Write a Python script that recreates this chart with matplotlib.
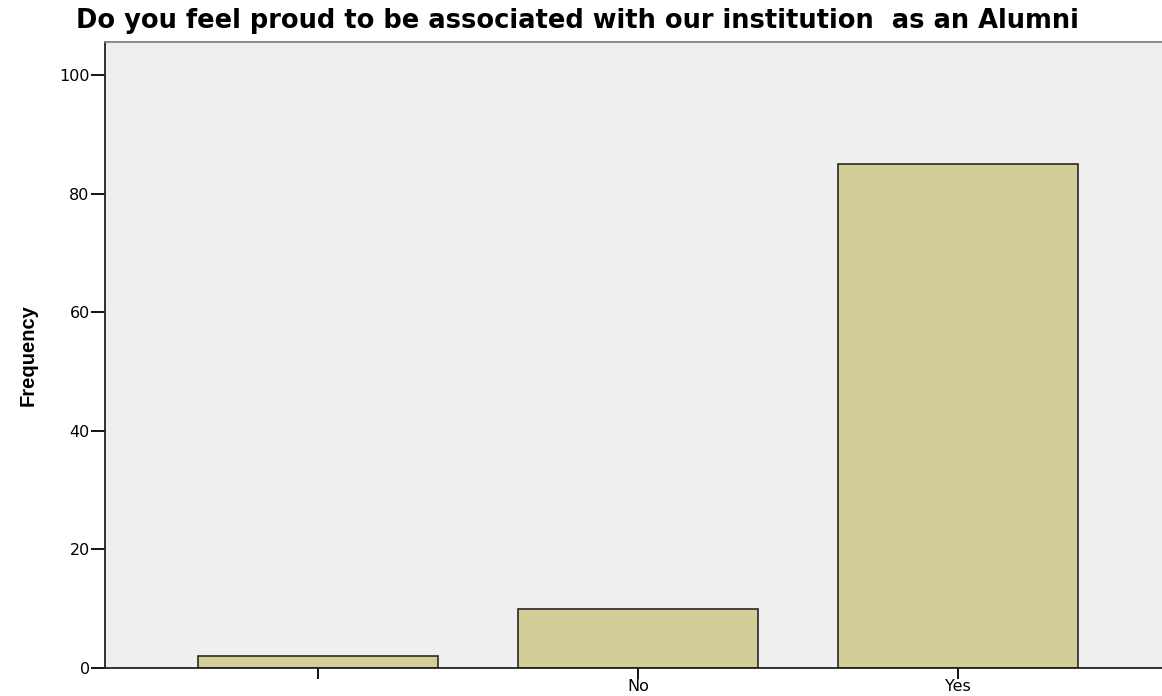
import matplotlib.pyplot as plt

# Data
categories = ["", "No", "Yes"]
frequency = [2, 10, 85]
yticks = [0, 20, 40, 60, 80, 100]

plt.rcParams['font.family'] = ['DejaVu Sans']

fig = plt.figure(figsize=(11.62, 6.96), dpi=100)
# plot area runs a little past the right edge of the picture
ax = fig.add_axes([105 / 1162, 28 / 696, 1066 / 1162, 626 / 696])
ax.set_facecolor('#efefef')

pos = list(range(len(categories)))
ax.bar(pos, frequency, width=0.75, color='#d3ce97', edgecolor='#2a2a2a', linewidth=1.2)

ax.set_xlim(-0.666, 2.666)
ax.set_ylim(0, 105.6)
ax.set_xticks(pos)
ax.set_xticklabels(categories, fontsize=11.5)
ax.set_yticks(yticks)
ax.set_yticklabels([str(v) for v in yticks], fontsize=11.5)
ax.tick_params(axis='x', length=8, width=1.3, pad=0)
ax.tick_params(axis='y', length=10, width=1.3, pad=1)

for s in ['left', 'bottom']:
    ax.spines[s].set_linewidth(1.3)
    ax.spines[s].set_color('#222222')
ax.spines['top'].set_color('#808080')
ax.spines['top'].set_linewidth(1.3)
ax.spines['right'].set_visible(False)

ax.set_ylabel('Frequency', fontsize=14.5, fontweight='bold',
              family=['Liberation Sans', 'DejaVu Sans'])
ax.yaxis.set_label_coords(38 / 1162, 0.49, transform=fig.transFigure)
fig.text(577 / 1162, 1 - 21 / 696, 'Do you feel proud to be associated with our institution  as an Alumni',
         ha='center', va='center', fontsize=18.5, fontweight='bold')

fig.savefig('out.png', dpi=100)
